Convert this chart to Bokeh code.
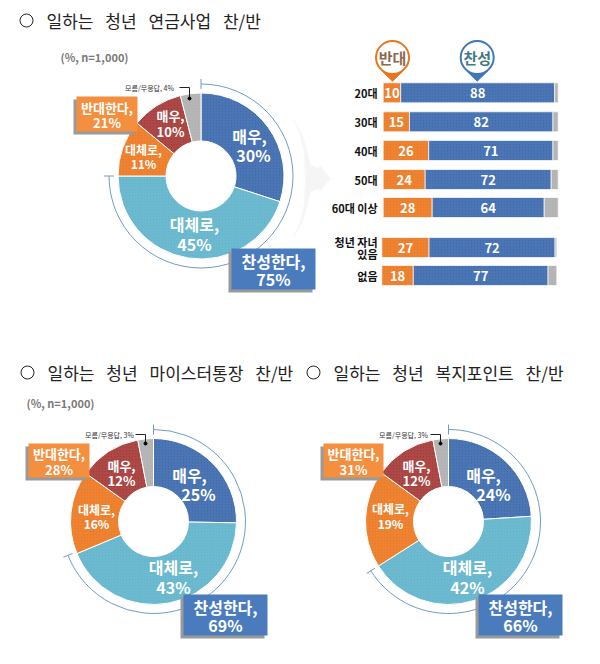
from bokeh.plotting import figure
from bokeh.models import Range1d
from bokeh.core.properties import value
from bokeh.embed import file_html
from bokeh.resources import INLINE
import math

# ---------- data ----------
GAP = "\u2002\u2009"
segment_names = ["매우,", "대체로,", "대체로,", "매우,", "모름/무응답"]
pension = [30, 45, 11, 10, 4]
meister = [25, 43, 16, 12, 3]
welfare = [24, 42, 19, 12, 3]
favour_totals = [75, 69, 66]
oppose_totals = [21, 28, 31]
title_words = [["일하는", "청년", "연금사업", "찬/반"],
               ["일하는", "청년", "마이스터통장", "찬/반"],
               ["일하는", "청년", "복지포인트", "찬/반"]]
sample_note = "(%, n=1,000)"

age_labels = ["20대", "30대", "40대", "50대", "60대 이상", "청년 자녀", "없음"]
oppose = [10, 15, 26, 24, 28, 27, 18]
favour = [88, 82, 71, 72, 64, 72, 77]
no_answer = [2, 3, 3, 4, 8, 1, 5]

# ---------- palette ----------
BLUE, TEAL, ORANGE, RED, GREY = "#3f6cae", "#62b5cc", "#ec7a24", "#a63c3a", "#b0b0b0"
SLICE = [BLUE, TEAL, ORANGE, RED, GREY]
BOXB, BOXO = "#4a7bbd", "#f38f3f"
FONT = value("Noto Sans CJK KR")

p = figure(width=584, height=648, output_backend="svg", toolbar_location=None,
           x_range=Range1d(0, 584), y_range=Range1d(16, 664), min_border=0)
p.axis.visible = False
p.grid.visible = False
p.outline_line_color = None
p.background_fill_color = "white"
p.border_fill_color = "white"

def Y(y):
    return 664 - y

def T(x, y, s, size, color="white", bold=True, align="center", base="middle", font=FONT):
    p.text([x], [Y(y)], text=[s], text_font=font, text_font_size=f"{size}px",
           text_color=color, text_align=align, text_baseline=base,
           text_font_style="bold" if bold else "normal")

def hatch(color):
    return dict(hatch_pattern="right_diagonal_line", hatch_color="white",
                hatch_alpha=0.16, hatch_scale=3, hatch_weight=0.6, fill_color=color)

def donut(cx, cy, vals, fav, opp, lab):
    total = sum(vals)
    acc = 0
    ang = []
    for v in vals:
        a0 = math.pi / 2 - 2 * math.pi * acc / total
        acc += v
        a1 = math.pi / 2 - 2 * math.pi * acc / total
        ang.append((a0, a1))
    for (a0, a1), c in zip(ang, SLICE):
        p.annular_wedge([cx], [Y(cy)], inner_radius=35, outer_radius=83, start_angle=a1, end_angle=a0,
                        line_color="white", line_width=1, **hatch(c))
    # bracket arc round the favour share
    end = math.pi / 2 - 2 * math.pi * fav / 100
    p.arc([cx], [Y(cy)], radius=92, start_angle=end, end_angle=math.pi / 2, line_color="#6f9cc6", line_width=1)
    p.line([cx, cx], [Y(cy - 87), Y(cy - 97)], line_color="#6f9cc6", line_width=1)
    p.line([cx + 87 * math.cos(end), cx + 97 * math.cos(end)],
           [Y(cy) + 87 * math.sin(end), Y(cy) + 97 * math.sin(end)], line_color="#6f9cc6", line_width=1)
    # slice labels
    for i in range(4):
        for j, s in enumerate((segment_names[i], f"{vals[i]}%")):
            x, y = lab["pos"][i][j]
            T(x, y, s, lab["size"][i])
    # call-out boxes
    for (x0, y0, x1, y1), fill, head, num in ((lab["opp"], BOXO, "반대한다,", opp), (lab["fav"], BOXB, "찬성한다,", fav)):
        p.quad(left=[x0 - 3], right=[x1 - 3], top=[Y(y0 + 3)], bottom=[Y(y1 + 3)], fill_color="#9a9a9a", line_color=None)
        p.quad(left=[x0], right=[x1], top=[Y(y0)], bottom=[Y(y1)], fill_color=fill, line_color=None)
        big = 16 if fill == BOXB else 13
        mx = (x0 + x1) / 2
        T(mx, y0 + (y1 - y0) * 0.30, head, big)
        T(mx, y0 + (y1 - y0) * 0.75, f"{num}%", big)
    # no answer leader
    tx, ty, lx, ld = lab["na"]
    T(tx, ty, f"모름/무응답, {vals[4]}%", 7, color="#333333", bold=False)
    p.line([lx - 10, lx, lx], [Y(ty), Y(ty), Y(ty + ld)], line_color="#222222", line_width=1)
    p.scatter([lx], [Y(ty + ld)], size=3, color="#000000")

donut(200.5, 175.5, pension, favour_totals[0], oppose_totals[0], dict(
    pos=[[(249, 135), (253, 154)], [(194, 223), (194, 243)], [(143, 149), (143, 163)], [(170, 115), (170, 131)]],
    size=[16, 16, 12, 13], opp=(76, 96, 137, 131), fav=(231, 248, 315, 289), na=(149, 87, 189, 11)))
donut(153, 521, meister, favour_totals[1], oppose_totals[1], dict(
    pos=[[(189, 474), (198, 493)], [(173, 566), (173, 586)], [(96, 509), (96, 523)], [(121, 465), (121, 480)]],
    size=[16, 16, 12, 13], opp=(28, 443, 89, 477), fav=(183, 594, 267, 635), na=(109, 434, 145, 9)))
donut(448, 521, welfare, favour_totals[2], oppose_totals[2], dict(
    pos=[[(483, 474), (493, 493)], [(467, 566), (467, 586)], [(390, 508), (390, 523)], [(416, 465), (416, 480)]],
    size=[16, 16, 12, 13], opp=(323, 443, 383, 477), fav=(478, 594, 562, 635), na=(403, 434, 440, 9)))

# titles and notes
for (tx, ty), words in zip(((19, 20), (20, 372), (306, 372)), title_words):
    p.scatter([tx + 7], [Y(ty)], size=13, fill_color=None, line_color="#222222", line_width=1)
    T(tx + 27, ty, GAP.join(words), 17, color="#222222", bold=False, align="left")
T(94, 56, sample_note, 11, color="#7a7a7a")
T(60, 402, sample_note, 11, color="#7a7a7a")

# chevron between the donut and the bars
chev_y = (119, 135, 153, 165, 168, 165, 178, 191, 188, 191, 203, 221, 237, 221, 203, 178, 153, 135)
chev_x = (293, 302, 307, 310, 319, 319, 330, 319, 319, 310, 307, 302, 293, 300, 304, 305, 304, 300)
p.patch(chev_x, [Y(v) for v in chev_y], fill_color="#f5f5f5", line_color="#f8f8f8")

# stacked bars
rows = [92.3, 121.3, 150, 179, 207, 247, 275]
origin = [382.7] * 5 + [381.3] * 2
UNIT = 1.75
for r, o, a, b, c, lbl in zip(rows, origin, oppose, favour, no_answer, age_labels):
    y = Y(r)
    s0, s1, s2, s3 = o, o + a * UNIT, o + (a + b) * UNIT, o + (a + b + c) * UNIT
    for l, rr, col in ((s0, s1, ORANGE), (s1, s2, BLUE), (s2, s3, GREY)):
        p.hbar(y=[y], left=[l], right=[rr], height=20, line_color="white", line_width=0.7, **hatch(col))
    T((s0 + s1) / 2, r, str(a), 13)
    T((s1 + s2) / 2, r, str(b), 13)
    if lbl == "청년 자녀":
        T(377, r - 6, lbl, 11, color="#111111", align="right")
        T(377, r + 6, "있음", 11, color="#111111", align="right")
    else:
        T(377, r, lbl, 11, color="#111111", align="right")

# pins
for cx, col, txt, tc in ((392, "#e8761e", "반대", "#8b6a50"), (476.7, "#3f78b5", "찬성", "#3f7a82")):
    cy = 57
    p.patch([cx - 11, cx, cx + 11], [Y(cy + 13), Y(cy + 23.7), Y(cy + 13)], fill_color=col, line_color=col)
    p.scatter([cx], [Y(cy)], size=33, fill_color="white", line_color=col, line_width=2)
    T(cx, cy, txt, 15, color=tc)

open("out.html", "w").write(file_html(p, INLINE))
